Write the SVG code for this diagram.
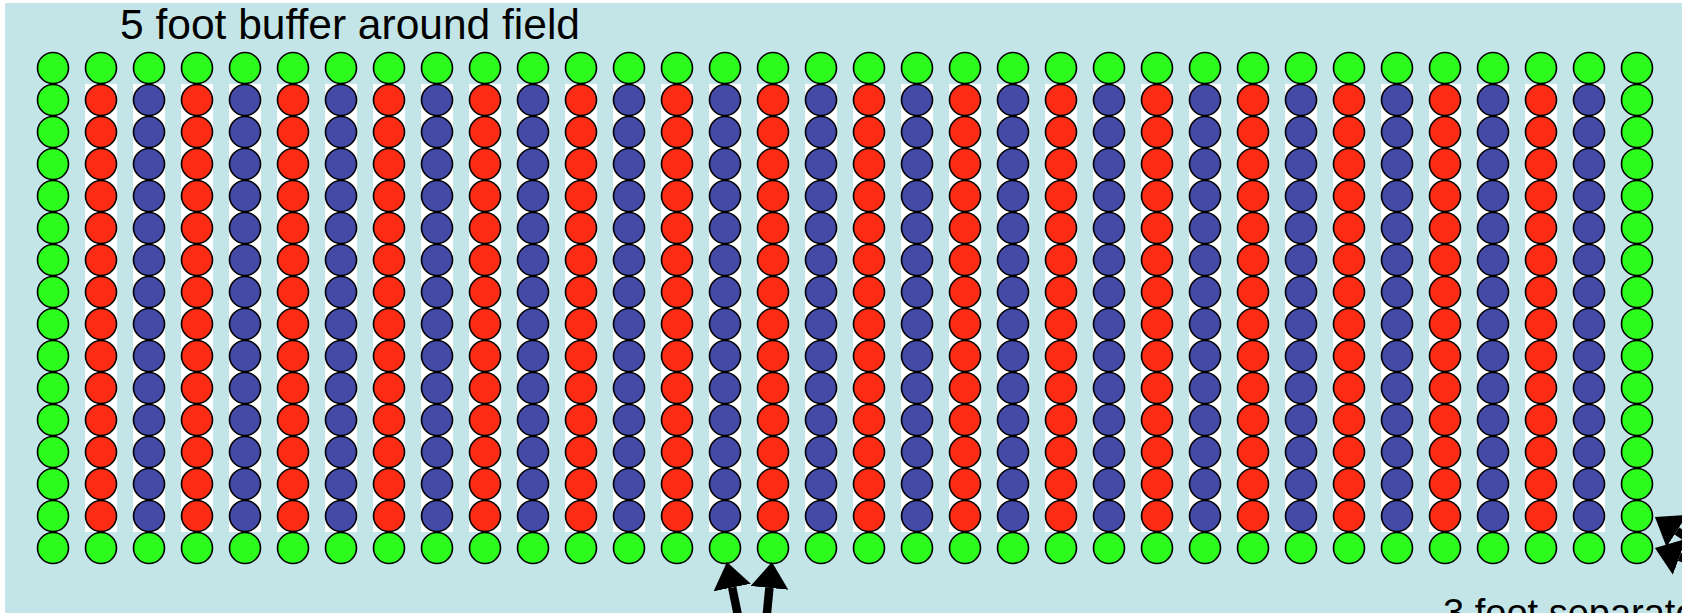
<svg xmlns="http://www.w3.org/2000/svg" xmlns:xlink="http://www.w3.org/1999/xlink" width="1682" height="613" viewBox="0 0 1682 613">
<style>
.g{fill:#2bfc1b;stroke:#000;stroke-width:1.6}
.r{fill:#fc2b14;stroke:#000;stroke-width:1.6}
.b{fill:#444aa8;stroke:#000;stroke-width:1.6}
.lbl{font-family:"Liberation Sans",Arial,sans-serif;font-size:42.5px;fill:#000}
.lbl2{font-family:"Liberation Sans",Arial,sans-serif;font-size:38px;fill:#000}
.arr{stroke:#000;stroke-width:8.5;fill:none}
</style>
<defs>
<marker id="ah" markerUnits="userSpaceOnUse" viewBox="0 0 26 38" refX="0" refY="19" markerWidth="26" markerHeight="38" orient="auto">
<path d="M0,0 L26,19 L0,38 z" fill="#000"/>
</marker>
<g id="gcol">
<circle class="g" cx="0" cy="68" r="15.5"/><circle class="g" cx="0" cy="100" r="15.5"/><circle class="g" cx="0" cy="132" r="15.5"/><circle class="g" cx="0" cy="164" r="15.5"/><circle class="g" cx="0" cy="196" r="15.5"/><circle class="g" cx="0" cy="228" r="15.5"/><circle class="g" cx="0" cy="260" r="15.5"/><circle class="g" cx="0" cy="292" r="15.5"/><circle class="g" cx="0" cy="324" r="15.5"/><circle class="g" cx="0" cy="356" r="15.5"/><circle class="g" cx="0" cy="388" r="15.5"/><circle class="g" cx="0" cy="420" r="15.5"/><circle class="g" cx="0" cy="452" r="15.5"/><circle class="g" cx="0" cy="484" r="15.5"/><circle class="g" cx="0" cy="516" r="15.5"/><circle class="g" cx="0" cy="548" r="15.5"/>
</g>
<g id="rcol">
<rect x="-16" y="84" width="32" height="448" fill="#fff"/>
<circle class="g" cx="0" cy="68" r="15.5"/><circle class="r" cx="0" cy="100" r="15.5"/><circle class="r" cx="0" cy="132" r="15.5"/><circle class="r" cx="0" cy="164" r="15.5"/><circle class="r" cx="0" cy="196" r="15.5"/><circle class="r" cx="0" cy="228" r="15.5"/><circle class="r" cx="0" cy="260" r="15.5"/><circle class="r" cx="0" cy="292" r="15.5"/><circle class="r" cx="0" cy="324" r="15.5"/><circle class="r" cx="0" cy="356" r="15.5"/><circle class="r" cx="0" cy="388" r="15.5"/><circle class="r" cx="0" cy="420" r="15.5"/><circle class="r" cx="0" cy="452" r="15.5"/><circle class="r" cx="0" cy="484" r="15.5"/><circle class="r" cx="0" cy="516" r="15.5"/><circle class="g" cx="0" cy="548" r="15.5"/>
</g>
<g id="bcol">
<rect x="-16" y="84" width="32" height="448" fill="#fff"/>
<circle class="g" cx="0" cy="68" r="15.5"/><circle class="b" cx="0" cy="100" r="15.5"/><circle class="b" cx="0" cy="132" r="15.5"/><circle class="b" cx="0" cy="164" r="15.5"/><circle class="b" cx="0" cy="196" r="15.5"/><circle class="b" cx="0" cy="228" r="15.5"/><circle class="b" cx="0" cy="260" r="15.5"/><circle class="b" cx="0" cy="292" r="15.5"/><circle class="b" cx="0" cy="324" r="15.5"/><circle class="b" cx="0" cy="356" r="15.5"/><circle class="b" cx="0" cy="388" r="15.5"/><circle class="b" cx="0" cy="420" r="15.5"/><circle class="b" cx="0" cy="452" r="15.5"/><circle class="b" cx="0" cy="484" r="15.5"/><circle class="b" cx="0" cy="516" r="15.5"/><circle class="g" cx="0" cy="548" r="15.5"/>
</g>
</defs>
<rect x="0" y="0" width="1682" height="613" fill="#fff"/>
<rect id="field-bg" x="5" y="3" width="1677" height="610" fill="#c4e5e8"/>
<g id="title"><text class="lbl" x="120" y="39">5 foot buffer around field</text></g>
<g id="columns">
<use xlink:href="#gcol" x="53"/>
<use xlink:href="#rcol" x="101"/><use xlink:href="#bcol" x="149"/>
<use xlink:href="#rcol" x="197"/><use xlink:href="#bcol" x="245"/>
<use xlink:href="#rcol" x="293"/><use xlink:href="#bcol" x="341"/>
<use xlink:href="#rcol" x="389"/><use xlink:href="#bcol" x="437"/>
<use xlink:href="#rcol" x="485"/><use xlink:href="#bcol" x="533"/>
<use xlink:href="#rcol" x="581"/><use xlink:href="#bcol" x="629"/>
<use xlink:href="#rcol" x="677"/><use xlink:href="#bcol" x="725"/>
<use xlink:href="#rcol" x="773"/><use xlink:href="#bcol" x="821"/>
<use xlink:href="#rcol" x="869"/><use xlink:href="#bcol" x="917"/>
<use xlink:href="#rcol" x="965"/><use xlink:href="#bcol" x="1013"/>
<use xlink:href="#rcol" x="1061"/><use xlink:href="#bcol" x="1109"/>
<use xlink:href="#rcol" x="1157"/><use xlink:href="#bcol" x="1205"/>
<use xlink:href="#rcol" x="1253"/><use xlink:href="#bcol" x="1301"/>
<use xlink:href="#rcol" x="1349"/><use xlink:href="#bcol" x="1397"/>
<use xlink:href="#rcol" x="1445"/><use xlink:href="#bcol" x="1493"/>
<use xlink:href="#rcol" x="1541"/><use xlink:href="#bcol" x="1589"/>
<use xlink:href="#gcol" x="1637"/>
</g>
<g id="separator-label"><text class="lbl2" x="1443" y="626">3 foot separator</text></g>
<g id="connectors">
<path class="arr" d="M743,640 L732.2,587.5" marker-end="url(#ah)"/>
<path class="arr" d="M764.3,640 L769.4,587.9" marker-end="url(#ah)"/>
<path class="arr" d="M1756,582 L1676.8,531" marker-end="url(#ah)"/>
<path class="arr" d="M1768,589 L1679.4,556.8" marker-end="url(#ah)"/>
</g>
</svg>
